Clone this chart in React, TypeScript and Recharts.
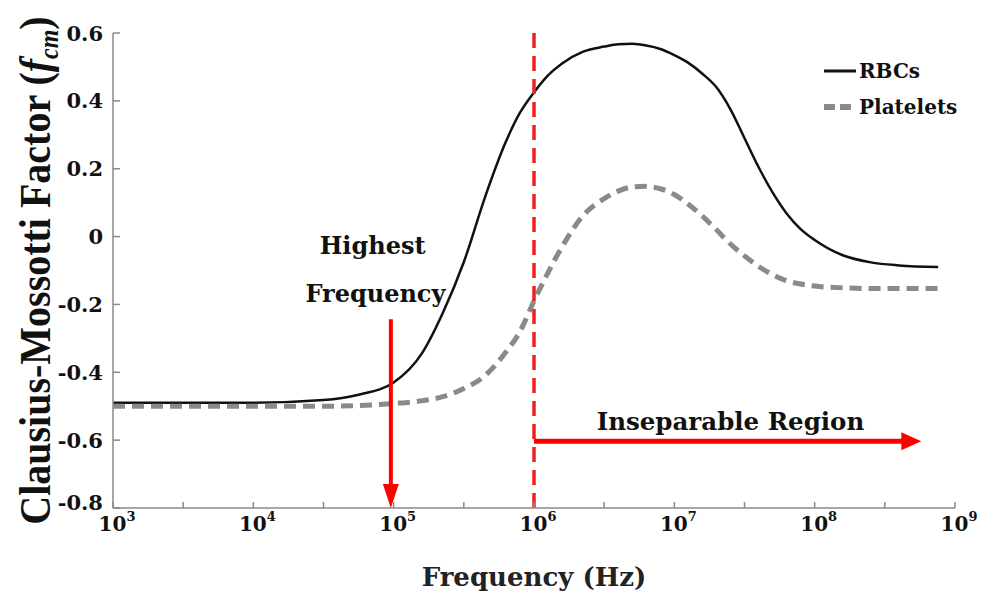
import React from 'react';
import {
  LineChart,
  Line,
  XAxis,
  YAxis,
  ReferenceLine,
  ReferenceDot,
  Legend,
} from 'recharts';

// ---- data (x = log10 of frequency in Hz) ----
const FREQ_EXP = [3, 3.5, 4, 4.5, 4.75, 5, 5.2, 5.35, 5.5, 5.65, 5.8, 5.9, 6, 6.1, 6.2, 6.35, 6.5, 6.6, 6.7, 6.8, 6.9, 7, 7.1, 7.2, 7.3, 7.4, 7.5, 7.6, 7.7, 7.8, 7.9, 8, 8.2, 8.4, 8.6, 8.88];
const RBC = [-0.49, -0.49, -0.49, -0.482, -0.466, -0.43, -0.345, -0.225, -0.075, 0.115, 0.28, 0.365, 0.425, 0.475, 0.51, 0.545, 0.56, 0.567, 0.568, 0.563, 0.553, 0.535, 0.512, 0.48, 0.44, 0.375, 0.29, 0.205, 0.13, 0.068, 0.022, -0.01, -0.055, -0.076, -0.085, -0.09];
const PLATELETS = [-0.5, -0.5, -0.5, -0.5, -0.498, -0.492, -0.484, -0.472, -0.448, -0.41, -0.34, -0.28, -0.19, -0.106, -0.03, 0.062, 0.112, 0.134, 0.146, 0.148, 0.141, 0.124, 0.095, 0.06, 0.02, -0.022, -0.057, -0.088, -0.112, -0.13, -0.14, -0.146, -0.151, -0.153, -0.153, -0.153];

const X_TICKS = [3, 3.5, 4, 4.5, 5, 5.5, 6, 6.5, 7, 7.5, 8, 8.5, 9];
const Y_TICKS = [-0.8, -0.6, -0.4, -0.2, 0, 0.2, 0.4, 0.6];
const LEGEND_ORDER = ['RBCs', 'Platelets'];

const SEPARATION_EXP = 6; // 10^6 Hz dashed line
const HIGHEST_FREQ_EXP = 4.98;
const HIGHEST_ARROW = [{ x: HIGHEST_FREQ_EXP, y: -0.244 }, { x: HIGHEST_FREQ_EXP, y: -0.8 }];
const REGION_ARROW = [{ x: 6.0, y: -0.603 }, { x: 8.76, y: -0.603 }];
const TEXT_LABELS = [
  { text: 'Highest', x: 4.85, y: -0.05, size: 24 },
  { text: 'Frequency', x: 4.87, y: -0.194, size: 24 },
  { text: 'Inseparable Region', x: 7.4, y: -0.57, size: 24.5 },
];

const chartData = FREQ_EXP.map((exp, i) => ({ exp, rbc: RBC[i], platelets: PLATELETS[i] }));

const WIDE_SERIF = "'DejaVu Serif', 'Liberation Serif', serif";
const TIMES = "'Liberation Serif', 'DejaVu Serif', serif";
const AXIS_GRAY = '#8a8a8a';
const RED = '#ff0000';

const Y_TICK_MARGIN = 9;

const XTick = (props: any) => {
  const { x, y, payload } = props;
  const v = payload.value as number;
  const axisY = y;
  const major = Math.abs(v - Math.round(v)) < 1e-9;
  return (
    <g>
      <line x1={x} x2={x} y1={axisY} y2={axisY - 6} stroke={AXIS_GRAY} strokeWidth={1.5} />
      {major && (
        <text x={x + 4} y={axisY + 23} textAnchor="middle" fontFamily={WIDE_SERIF} fontWeight="bold" fontSize={20} fill="#111">
          10
          <tspan dy={-10} fontSize={13}>{Math.round(v)}</tspan>
        </text>
      )}
    </g>
  );
};

const YTick = (props: any) => {
  const { x, y, payload, index } = props;
  const v = payload.value as number;
  const axisX = x + Y_TICK_MARGIN;
  const label = Math.abs(v) < 1e-9 ? '0' : v.toFixed(1);
  const lift = index === 0 ? -6 : 0;
  return (
    <g>
      <line x1={axisX} x2={axisX + 7} y1={y} y2={y} stroke={AXIS_GRAY} strokeWidth={1.5} />
      <text x={x - 1} y={y + lift} dy="0.36em" textAnchor="end" fontFamily={WIDE_SERIF} fontWeight="bold" fontSize={21} fill="#111">
        {label}
      </text>
    </g>
  );
};

const YLabel = (props: any) => {
  const vb = props.viewBox || {};
  const cy = vb.y + vb.height / 2;
  return (
    <text
      transform={`translate(50, ${cy}) rotate(-90) scale(1, 1.1)`}
      textAnchor="middle"
      fontFamily={TIMES}
      fontWeight="bold"
      fontSize={40}
      fill="#111"
    >
      Clausius-Mossotti Factor (
      <tspan fontStyle="italic">f</tspan>
      <tspan fontStyle="italic" fontSize={24} dy={7}>cm</tspan>
      <tspan dy={-7}>)</tspan>
    </text>
  );
};

const XLabel = (props: any) => {
  const vb = props.viewBox || {};
  const cx = vb.x + vb.width / 2;
  return (
    <text x={cx} y={586} textAnchor="middle" fontFamily={WIDE_SERIF} fontWeight="bold" fontSize={26} fill="#222">
      Frequency (Hz)
    </text>
  );
};

const makeArrow = (headLen: number, headHalf: number, width: number) => (props: any) => {
  const { x1, y1, x2, y2 } = props;
  const dx = x2 - x1;
  const dy = y2 - y1;
  const len = Math.hypot(dx, dy) || 1;
  const ux = dx / len;
  const uy = dy / len;
  const bx = x2 - ux * headLen;
  const by = y2 - uy * headLen;
  const px = -uy;
  const py = ux;
  return (
    <g>
      <line x1={x1} y1={y1} x2={bx + ux} y2={by + uy} stroke={RED} strokeWidth={width} />
      <polygon
        points={`${x2},${y2} ${bx + px * headHalf},${by + py * headHalf} ${bx - px * headHalf},${by - py * headHalf}`}
        fill={RED}
      />
    </g>
  );
};

const renderLegend = (props: any) => {
  const items = [...(props.payload || [])].sort(
    (a: any, b: any) => LEGEND_ORDER.indexOf(a.value) - LEGEND_ORDER.indexOf(b.value),
  );
  return (
    <div style={{ fontFamily: WIDE_SERIF, fontWeight: 'bold', fontSize: 20, color: '#111' }}>
      {items.map((item: any) => {
        const p = item.payload || {};
        const dashed = !!p.strokeDasharray;
        return (
          <div key={item.value} style={{ display: 'flex', alignItems: 'center', height: 36 }}>
            <svg width={34} height={12} style={{ display: 'block' }}>
              <line
                x1={1}
                x2={33}
                y1={6}
                y2={6}
                stroke={item.color}
                strokeWidth={dashed ? 6 : 3}
                strokeDasharray={dashed ? '11 5' : undefined}
              />
            </svg>
            <span style={{ marginLeft: 2, lineHeight: '20px' }}>{item.value}</span>
          </div>
        );
      })}
    </div>
  );
};

export default function App() {
  return (
    <div style={{ position: 'absolute', left: 0, top: 0, background: '#fff' }}>
      <LineChart width={982} height={592} data={chartData} margin={{ top: 33, right: 27, bottom: 0, left: 0 }}>
        <XAxis
          dataKey="exp"
          type="number"
          domain={[3, 9]}
          ticks={X_TICKS}
          interval={0}
          tick={<XTick />}
          tickLine={false}
          tickSize={0}
          tickMargin={0}
          axisLine={{ stroke: AXIS_GRAY, strokeWidth: 1.5 }}
          height={84}
          label={{ content: XLabel }}
        />
        <YAxis
          type="number"
          domain={[-0.8, 0.6]}
          ticks={Y_TICKS}
          interval={0}
          tick={<YTick />}
          tickLine={false}
          tickSize={0}
          tickMargin={Y_TICK_MARGIN}
          axisLine={{ stroke: AXIS_GRAY, strokeWidth: 1.5 }}
          width={113}
          label={{ content: YLabel }}
        />
        <Legend
          content={renderLegend}
          layout="horizontal"
          verticalAlign="middle"
          align="center"
          wrapperStyle={{ left: 823, top: 53, width: 160, height: 80 }}
        />
        <Line
          name="RBCs"
          dataKey="rbc"
          type="monotone"
          stroke="#111"
          strokeWidth={2.5}
          dot={false}
          isAnimationActive={false}
        />
        <Line
          name="Platelets"
          dataKey="platelets"
          type="monotone"
          stroke="#8a8a8a"
          strokeWidth={5}
          strokeDasharray="12 7"
          dot={false}
          isAnimationActive={false}
        />
        <ReferenceLine x={SEPARATION_EXP} stroke="#f02020" strokeWidth={3.5} strokeDasharray="15 8" />
        <ReferenceLine segment={HIGHEST_ARROW} shape={makeArrow(24, 8, 4)} />
        <ReferenceLine segment={REGION_ARROW} shape={makeArrow(20, 9, 5)} />
        {TEXT_LABELS.map((t) => (
          <ReferenceDot
            key={t.text}
            x={t.x}
            y={t.y}
            r={0}
            shape={(p: any) => (
              <text x={p.cx} y={p.cy} textAnchor="middle" fontFamily={WIDE_SERIF} fontWeight="bold" fontSize={t.size} fill="#111">
                {t.text}
              </text>
            )}
          />
        ))}
      </LineChart>
    </div>
  );
}
